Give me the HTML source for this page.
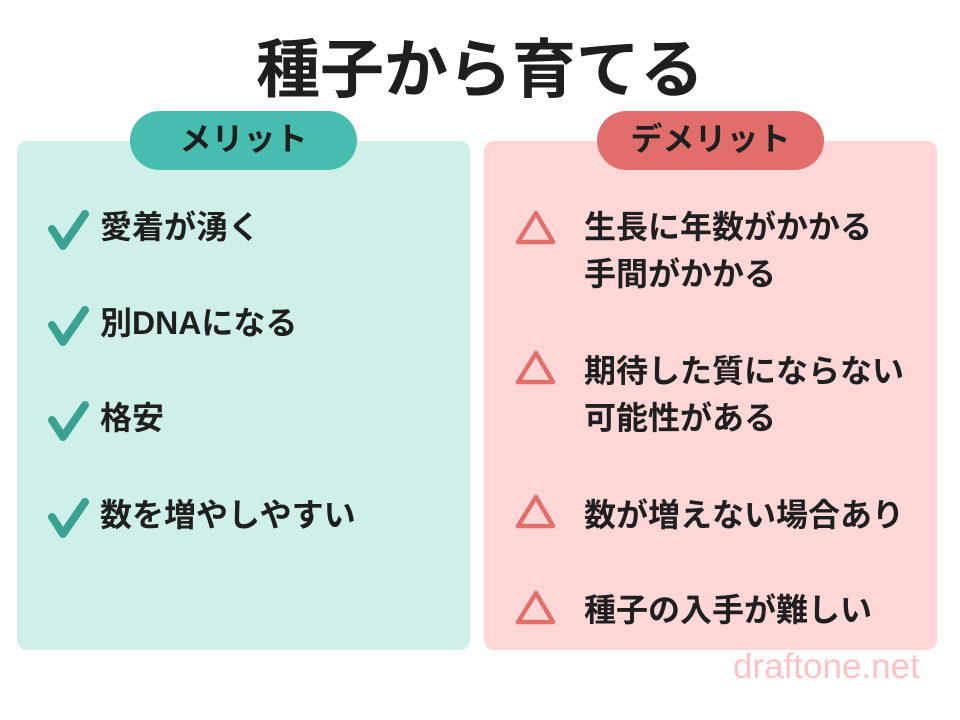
<!DOCTYPE html>
<html><head><meta charset="utf-8"><style>
body{margin:0;width:960px;height:720px;background:#fff;position:relative;overflow:hidden;font-family:"Liberation Sans","Noto Sans CJK JP",sans-serif;}
.a{position:absolute;white-space:nowrap}
.t{font-size:32px;font-weight:bold;color:#1f1f1f;line-height:40px}
.panel{position:absolute;border-radius:10px}
.pill{position:absolute;border-radius:30px;font-size:32px;font-weight:bold;color:#1f1f1f;text-align:center;line-height:57px}
</style></head><body>
<div class="a" style="left:0;width:960px;text-align:center;top:30px;font-size:64px;font-weight:bold;line-height:80px;color:#1f1f1f">種子から育てる</div>
<div class="panel" style="left:17px;top:141px;width:453px;height:509px;background:#cff0e9"></div>
<div class="panel" style="left:484px;top:141px;width:453px;height:509px;background:#ffd7d7"></div>
<div class="pill" style="left:130px;top:111px;width:227px;height:59px;background:#46bdae">メリット</div>
<div class="pill" style="left:597px;top:111px;width:227px;height:59px;background:#e26e6c">デメリット</div>
<svg class="a" style="left:0;top:0" width="960" height="720">
<g fill="none" stroke="#3aa292" stroke-width="8" stroke-linecap="round" stroke-linejoin="round">
<path d="M52 229 L63 246 L85 214"/>
<path d="M52 325 L63 342 L85 310"/>
<path d="M52 420 L63 437 L85 405"/>
<path d="M52 517 L63 534 L85 502"/>
</g>
<g fill="none" stroke="#e36f6c" stroke-width="4.5" stroke-linejoin="round">
<path d="M536 213 L553 242 L518 242 Z"/>
<path d="M536 353 L553 382 L518 382 Z"/>
<path d="M536 497 L553 526 L518 526 Z"/>
<path d="M536 593 L553 622 L518 622 Z"/>
</g>
</svg>
<div class="a t" style="left:100px;top:207px">愛着が湧く</div>
<div class="a t" style="left:100px;top:303px">別DNAになる</div>
<div class="a t" style="left:100px;top:398px">格安</div>
<div class="a t" style="left:100px;top:495px">数を増やしやすい</div>
<div class="a t" style="left:584px;top:207px">生長に年数がかかる</div>
<div class="a t" style="left:584px;top:254px">手間がかかる</div>
<div class="a t" style="left:584px;top:351px">期待した質にならない</div>
<div class="a t" style="left:584px;top:398px">可能性がある</div>
<div class="a t" style="left:584px;top:495px">数が増えない場合あり</div>
<div class="a t" style="left:584px;top:590px">種子の入手が難しい</div>
<div class="a" style="left:733px;top:646px;font-size:35px;line-height:42px;color:#ffc2c2">draftone.net</div>
</body></html>
